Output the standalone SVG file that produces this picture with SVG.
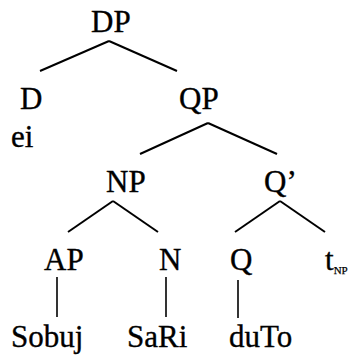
<svg xmlns="http://www.w3.org/2000/svg" width="357" height="358" viewBox="0 0 357 358">
<style>
.t{font-family:"Liberation Serif","Times New Roman",serif;font-size:31px;fill:#000;stroke:#000;stroke-width:0.35}
.sub{font-size:11px;stroke-width:0.25}
.e{stroke:#000;stroke-width:2;fill:none}
.v{stroke:#000;stroke-width:1.6;fill:none}
</style>
<rect width="357" height="358" fill="#fff"/>
<g id="connectors">
<line class="e" x1="109" y1="41" x2="40" y2="71"/>
<line class="e" x1="109" y1="41" x2="177" y2="71"/>
<line class="e" x1="208" y1="123" x2="140" y2="154"/>
<line class="e" x1="208" y1="123" x2="277" y2="154"/>
<line class="e" x1="113" y1="201" x2="68" y2="232"/>
<line class="e" x1="113" y1="201" x2="158" y2="232"/>
<line class="e" x1="280" y1="201" x2="235" y2="232"/>
<line class="e" x1="280" y1="201" x2="325" y2="232"/>
<line class="v" x1="57" y1="277" x2="57" y2="317"/>
<line class="v" x1="166" y1="277" x2="166" y2="317"/>
<line class="v" x1="238" y1="280" x2="238" y2="318"/>
</g>
<g class="t">
<g id="DP"><text x="91" y="32">DP</text></g>
<g id="D"><text x="20" y="109">D</text></g>
<g id="ei"><text x="11" y="147">ei</text></g>
<g id="QP"><text x="179" y="109">QP</text></g>
<g id="NP"><text x="106" y="192">NP</text></g>
<g id="Qbar"><text x="264" y="192">Q’</text></g>
<g id="AP"><text x="44" y="270">AP</text></g>
<g id="N"><text x="159" y="270">N</text></g>
<g id="Q"><text x="230" y="270">Q</text></g>
<g id="tNP"><text x="325" y="270">t<tspan class="sub" dy="4">NP</tspan></text></g>
<g id="Sobuj"><text x="11" y="347">Sobuj</text></g>
<g id="SaRi"><text x="127" y="347">SaRi</text></g>
<g id="duTo"><text x="229" y="347">duTo</text></g>
</g>
</svg>
